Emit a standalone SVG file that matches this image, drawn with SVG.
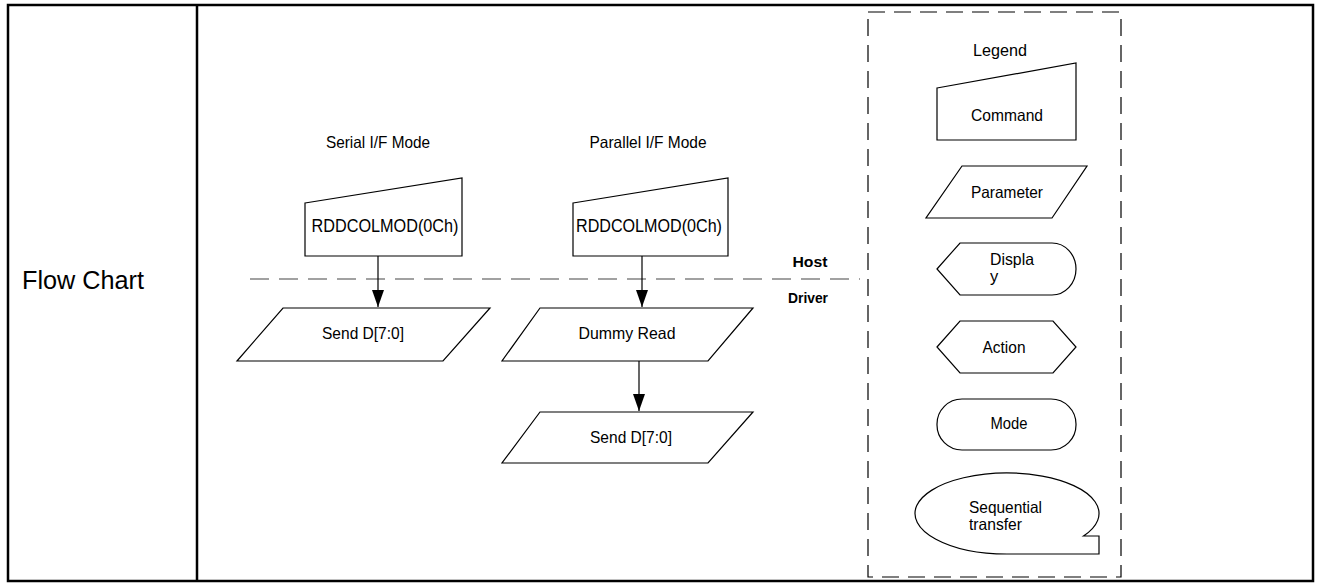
<svg xmlns="http://www.w3.org/2000/svg" width="1318" height="583" viewBox="0 0 1318 583">
<style>
text{font-family:"Liberation Sans",Arial,sans-serif;fill:#000}
.lbl{font-size:16.5px}
.cmd{font-size:19px}
.hd{font-size:15px;font-weight:bold}
.shape{fill:#fff;stroke:#000;stroke-width:1.2}
.frame{fill:none;stroke:#000;stroke-width:2.5}
.conn{stroke:#000;stroke-width:1.2;fill:none}
</style>
<defs>
<marker id="ah" markerUnits="userSpaceOnUse" markerWidth="18" markerHeight="14" refX="17" refY="6" orient="auto" viewBox="0 0 18 12">
<path d="M0,0 L17,6 L0,12 Z" fill="#000"/>
</marker>
</defs>
<rect width="1318" height="583" fill="#fff"/>
<g id="table">
<rect class="frame" x="8" y="5" width="1305" height="576"/>
<line class="frame" x1="197" y1="5" x2="197" y2="581"/>
<text x="22" y="289" style="font-size:25px" textLength="122" lengthAdjust="spacingAndGlyphs">Flow Chart</text>
</g>
<g id="host-driver">
<line x1="250" y1="279" x2="860" y2="279" stroke="#444" stroke-width="1.2" stroke-dasharray="19 10"/>
<text class="hd" x="810" y="267" text-anchor="middle" textLength="35" lengthAdjust="spacingAndGlyphs">Host</text>
<text class="hd" x="808" y="303" text-anchor="middle" textLength="40" lengthAdjust="spacingAndGlyphs">Driver</text>
</g>
<g id="serial-title"><text class="lbl" x="378" y="148" text-anchor="middle" textLength="104" lengthAdjust="spacingAndGlyphs">Serial I/F Mode</text></g>
<g id="parallel-title"><text class="lbl" x="648" y="148" text-anchor="middle" textLength="117" lengthAdjust="spacingAndGlyphs">Parallel I/F Mode</text></g>
<g id="serial-cmd">
<path class="shape" d="M305,203 L462,178 L462,256 L305,256 Z"/>
<text class="cmd" x="385" y="232" text-anchor="middle" textLength="147" lengthAdjust="spacingAndGlyphs">RDDCOLMOD(0Ch)</text>
</g>
<g id="parallel-cmd">
<path class="shape" d="M573,203 L728,178 L728,256 L573,256 Z"/>
<text class="cmd" x="649" y="232" text-anchor="middle" textLength="146" lengthAdjust="spacingAndGlyphs">RDDCOLMOD(0Ch)</text>
</g>
<g id="serial-send">
<path class="shape" d="M283,308 L490,308 L443,361 L237,361 Z"/>
<text class="lbl" x="363" y="339" text-anchor="middle" textLength="82" lengthAdjust="spacingAndGlyphs">Send D[7:0]</text>
</g>
<g id="dummy-read">
<path class="shape" d="M540,308 L753,308 L708,361 L502,361 Z"/>
<text class="lbl" x="627" y="339" text-anchor="middle" textLength="97" lengthAdjust="spacingAndGlyphs">Dummy Read</text>
</g>
<g id="parallel-send">
<path class="shape" d="M540,412 L753,412 L708,463 L502,463 Z"/>
<text class="lbl" x="631" y="443" text-anchor="middle" textLength="82" lengthAdjust="spacingAndGlyphs">Send D[7:0]</text>
</g>
<g id="connectors">
<line class="conn" x1="378" y1="256" x2="378" y2="307" marker-end="url(#ah)"/>
<line class="conn" x1="642" y1="256" x2="642" y2="307" marker-end="url(#ah)"/>
<line class="conn" x1="639" y1="361" x2="639" y2="411" marker-end="url(#ah)"/>
</g>
<g id="legend">
<rect x="868" y="12" width="253" height="565" fill="none" stroke="#000" stroke-width="1.2" stroke-dasharray="17 9"/>
<text class="lbl" x="1000" y="56" text-anchor="middle" textLength="54" lengthAdjust="spacingAndGlyphs">Legend</text>
</g>
<g id="legend-command">
<path class="shape" d="M937,88 L1076,63 L1076,140 L937,140 Z"/>
<text class="lbl" x="1007" y="121" text-anchor="middle" textLength="72" lengthAdjust="spacingAndGlyphs">Command</text>
</g>
<g id="legend-parameter">
<path class="shape" d="M962,166 L1087,166 L1052,218 L926,218 Z"/>
<text class="lbl" x="1007" y="198" text-anchor="middle" textLength="72" lengthAdjust="spacingAndGlyphs">Parameter</text>
</g>
<g id="legend-display">
<path class="shape" d="M937,269 L960,243 L1052,243 A24 26 0 0 1 1052,295 L960,295 Z"/>
<text class="lbl" x="990" y="265" textLength="44" lengthAdjust="spacingAndGlyphs">Displa</text>
<text class="lbl" x="990" y="282">y</text>
</g>
<g id="legend-action">
<path class="shape" d="M937,347 L960,321 L1053,321 L1076,347 L1053,373 L960,373 Z"/>
<text class="lbl" x="1004" y="353" text-anchor="middle" textLength="43" lengthAdjust="spacingAndGlyphs">Action</text>
</g>
<g id="legend-mode">
<rect class="shape" x="937" y="399" width="139" height="51" rx="25" ry="25"/>
<text class="lbl" x="1009" y="429" text-anchor="middle" textLength="37" lengthAdjust="spacingAndGlyphs">Mode</text>
</g>
<g id="legend-sequential">
<path class="shape" d="M1007,554 A92 40.5 0 1 1 1083.5,536 L1099,536 L1099,554 Z"/>
<text class="lbl" x="969" y="513" textLength="73" lengthAdjust="spacingAndGlyphs">Sequential</text>
<text class="lbl" x="969" y="530" textLength="53" lengthAdjust="spacingAndGlyphs">transfer</text>
</g>
</svg>
